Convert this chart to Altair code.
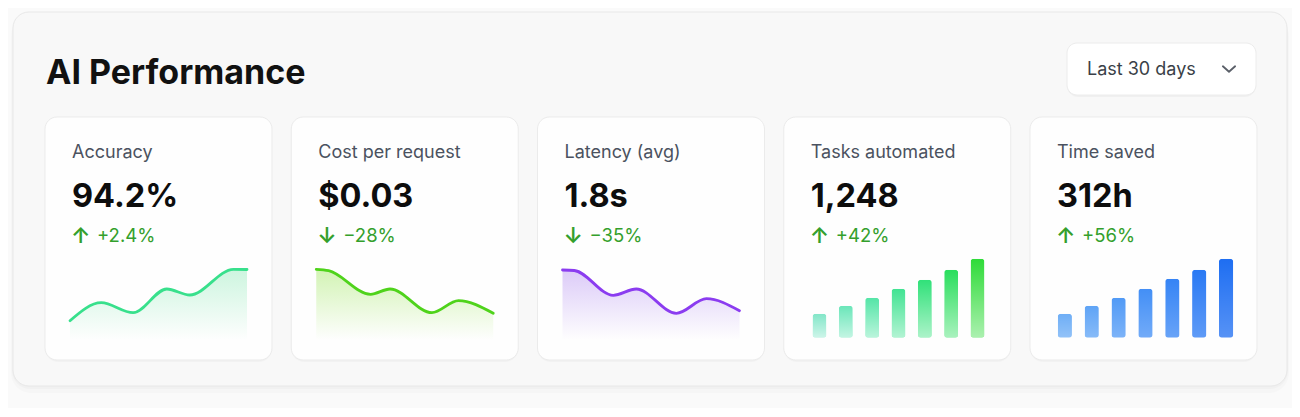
import altair as alt
import pandas as pd

# ---------------- data ----------------
labels = ["Accuracy", "Cost per request", "Latency (avg)", "Tasks automated", "Time saved"]
values = ["94.2%", "$0.03", "1.8s", "1,248", "312h"]
arrows = ["↑", "↓", "↓", "↑", "↑"]
deltas = ["+2.4%", "−28%", "−35%", "+42%", "+56%"]

acc_day = [0, 5.3, 10.7, 16.4, 20.3, 27.7, 30]
acc_trend = [19.3, 37.3, 27.3, 51, 45, 70.7, 70.5]
cost_day = [0, 2.1, 9.2, 12.5, 19.6, 24.1, 30]
cost_trend = [70.7, 69.3, 45.7, 51, 27.3, 39.3, 26.7]
lat_day = [0, 2, 8.6, 12.5, 19.3, 24.4, 30]
lat_trend = [70, 69.5, 44.7, 51, 26.7, 41.3, 29.3]

weeks = [1, 2, 3, 4, 5, 6, 7]
tasks_bars = [24, 32, 40, 49, 58, 68, 79]
time_bars = [24, 32, 40, 49, 59, 68, 79]

title_text = "AI Performance"
range_text = "Last 30 days"

# ---------------- layout ----------------
W, H = 1284, 400
CARD_X0, CARD_STEP, CARD_W = 37, 246.25, 227
CARD_Y0, CARD_Y1 = 109, 352
FONT = "Inter"
one = pd.DataFrame({"a": [0]})


def rect(x, x2, y, y2, **kw):
    return alt.Chart(one).mark_rect(**kw).encode(
        x=alt.value(x), x2=alt.value(x2), y=alt.value(y), y2=alt.value(y2)
    )


layers = []
# outer card shadow + card
layers.append(rect(3, 1281, 8, 385, fill="#000000", opacity=0.015, cornerRadius=20))
layers.append(rect(4, 1280, 6, 381, fill="#000000", opacity=0.02, cornerRadius=18))
layers.append(rect(5, 1279, 4, 378, fill="#f8f8f8", stroke="#e8e8e8", strokeWidth=1, cornerRadius=16))

# title
layers.append(
    alt.Chart(one).mark_text(align="left", baseline="alphabetic", font=FONT, fontSize=34,
                             fontWeight=700, color="#111111")
    .encode(x=alt.value(38), y=alt.value(76), text=alt.value(title_text))
)

# dropdown
layers.append(rect(1059, 1248, 37, 89, fill="#000000", opacity=0.03, cornerRadius=11))
layers.append(rect(1059, 1248, 35, 87, fill="#ffffff", stroke="#ececec", strokeWidth=1, cornerRadius=10))
layers.append(
    alt.Chart(one).mark_text(align="left", baseline="alphabetic", font=FONT, fontSize=18,
                             color="#3a3f48")
    .encode(x=alt.value(1079), y=alt.value(67), text=alt.value(range_text))
)
layers.append(
    alt.Chart(one).mark_point(shape="M -1 -0.45 L 0 0.45 L 1 -0.45", filled=False, size=150,
                              strokeWidth=1.8, color="#5a5f68", opacity=1,
                              strokeCap="round", strokeJoin="round")
    .encode(x=alt.value(1221), y=alt.value(61))
)

# cards
card_df = pd.DataFrame({
    "x0": [CARD_X0 + i * CARD_STEP for i in range(5)],
    "x1": [CARD_X0 + i * CARD_STEP + CARD_W for i in range(5)],
})
layers.append(
    alt.Chart(card_df).mark_rect(fill="#000000", opacity=0.025, cornerRadius=13)
    .encode(x=alt.X("x0:Q", scale=None), x2="x1:Q", y=alt.value(CARD_Y0 + 1), y2=alt.value(CARD_Y1 + 2))
)
layers.append(
    alt.Chart(card_df).mark_rect(fill="#fefefe", stroke="#ebebeb", strokeWidth=1, cornerRadius=12)
    .encode(x=alt.X("x0:Q", scale=None), x2="x1:Q", y=alt.value(CARD_Y0), y2=alt.value(CARD_Y1))
)

# card texts
txt = pd.DataFrame({
    "label": labels, "val": values, "arrow": arrows, "delta": deltas,
    "lx": [CARD_X0 + i * CARD_STEP + 27 for i in range(5)],
    "ax": [CARD_X0 + i * CARD_STEP + 26 for i in range(5)],
    "dx": [CARD_X0 + i * CARD_STEP + 52 for i in range(5)],
})
layers.append(
    alt.Chart(txt).mark_text(align="left", baseline="alphabetic", font=FONT, fontSize=18, color="#4b5260")
    .encode(x=alt.X("lx:Q", scale=None), y=alt.value(150), text="label:N")
)
layers.append(
    alt.Chart(txt).mark_text(align="left", baseline="alphabetic", font=FONT, fontSize=32.5,
                             fontWeight=700, color="#0d0d0d")
    .encode(x=alt.X("lx:Q", scale=None), y=alt.value(198.7), text="val:N")
)
layers.append(
    alt.Chart(txt).mark_text(align="left", baseline="alphabetic", font=FONT, fontSize=22,
                             fontWeight=600, color="#34a02c")
    .encode(x=alt.X("ax:Q", scale=None), y=alt.value(234.5), text="arrow:N")
)
layers.append(
    alt.Chart(txt).mark_text(align="left", baseline="alphabetic", font=FONT, fontSize=18.5, color="#34a02c")
    .encode(x=alt.X("dx:Q", scale=None), y=alt.value(234), text="delta:N")
)


def spark(days, trend, idx, line_color, tint):
    x0 = CARD_X0 + idx * CARD_STEP
    df = pd.DataFrame({"day": days, "trend": trend})
    xs = alt.X("day:Q", scale=alt.Scale(domain=[0, 30], range=[x0 + 25, x0 + 202], nice=False), axis=None)
    ys = alt.Y("trend:Q", scale=alt.Scale(domain=[0, 80], range=[332, 252], nice=False), axis=None)
    grad = alt.Gradient(gradient="linear",
                        stops=[alt.GradientStop(color=tint, offset=0),
                               alt.GradientStop(color="#fefefe", offset=1)],
                        x1=0, x2=0, y1=0, y2=1)
    area = alt.Chart(df).mark_area(interpolate="monotone", fill=grad).encode(x=xs, y=ys)
    line = alt.Chart(df).mark_line(interpolate="monotone", color=line_color, strokeWidth=2.8,
                                   strokeCap="round").encode(x=xs, y=ys)
    return [area, line]


def bars(vals, lo, hi, c0, c1, fade):
    df = pd.DataFrame({"week": weeks, "v": vals})
    xs = alt.X("week:O", scale=alt.Scale(range=[lo, hi], paddingInner=0.47, paddingOuter=0), axis=None)
    ys = alt.Y("v:Q", scale=alt.Scale(domain=[0, 80], range=[329.7, 249.7], nice=False), axis=None)
    base = alt.Chart(df).mark_bar(cornerRadius=3).encode(
        x=xs, y=ys,
        color=alt.Color("week:Q", scale=alt.Scale(domain=[1, 7], range=[c0, c1]), legend=None),
    )
    grad = alt.Gradient(gradient="linear",
                        stops=[alt.GradientStop(color="rgba(255,255,255,0)", offset=0),
                               alt.GradientStop(color=f"rgba(255,255,255,{fade})", offset=1)],
                        x1=0, x2=0, y1=0, y2=1)
    over = alt.Chart(df).mark_bar(cornerRadius=3, fill=grad).encode(x=xs, y=ys)
    return [base, over]


layers += spark(acc_day, acc_trend, 0, "#38e08c", "#cdf5df")
layers += spark(cost_day, cost_trend, 1, "#4fd31b", "#d2f3b4")
layers += spark(lat_day, lat_trend, 2, "#8b3cf0", "#dccbf8")
layers += bars(tasks_bars, 804.5, 976.5, "#82e6c8", "#2edb38", 0.6)
layers += bars(time_bars, 1049.7, 1225.2, "#6eaef6", "#1e6ef2", 0.25)

chart = (
    alt.layer(*layers)
    .resolve_scale(x="independent", y="independent", color="independent")
    .properties(width=W, height=H, padding=0, background="#fafafa",
                autosize=alt.AutoSizeParams(type="fit", contains="padding"))
    .configure_view(strokeWidth=0)
)

chart.save("out.html", embed_options={"renderer": "svg", "actions": False})
